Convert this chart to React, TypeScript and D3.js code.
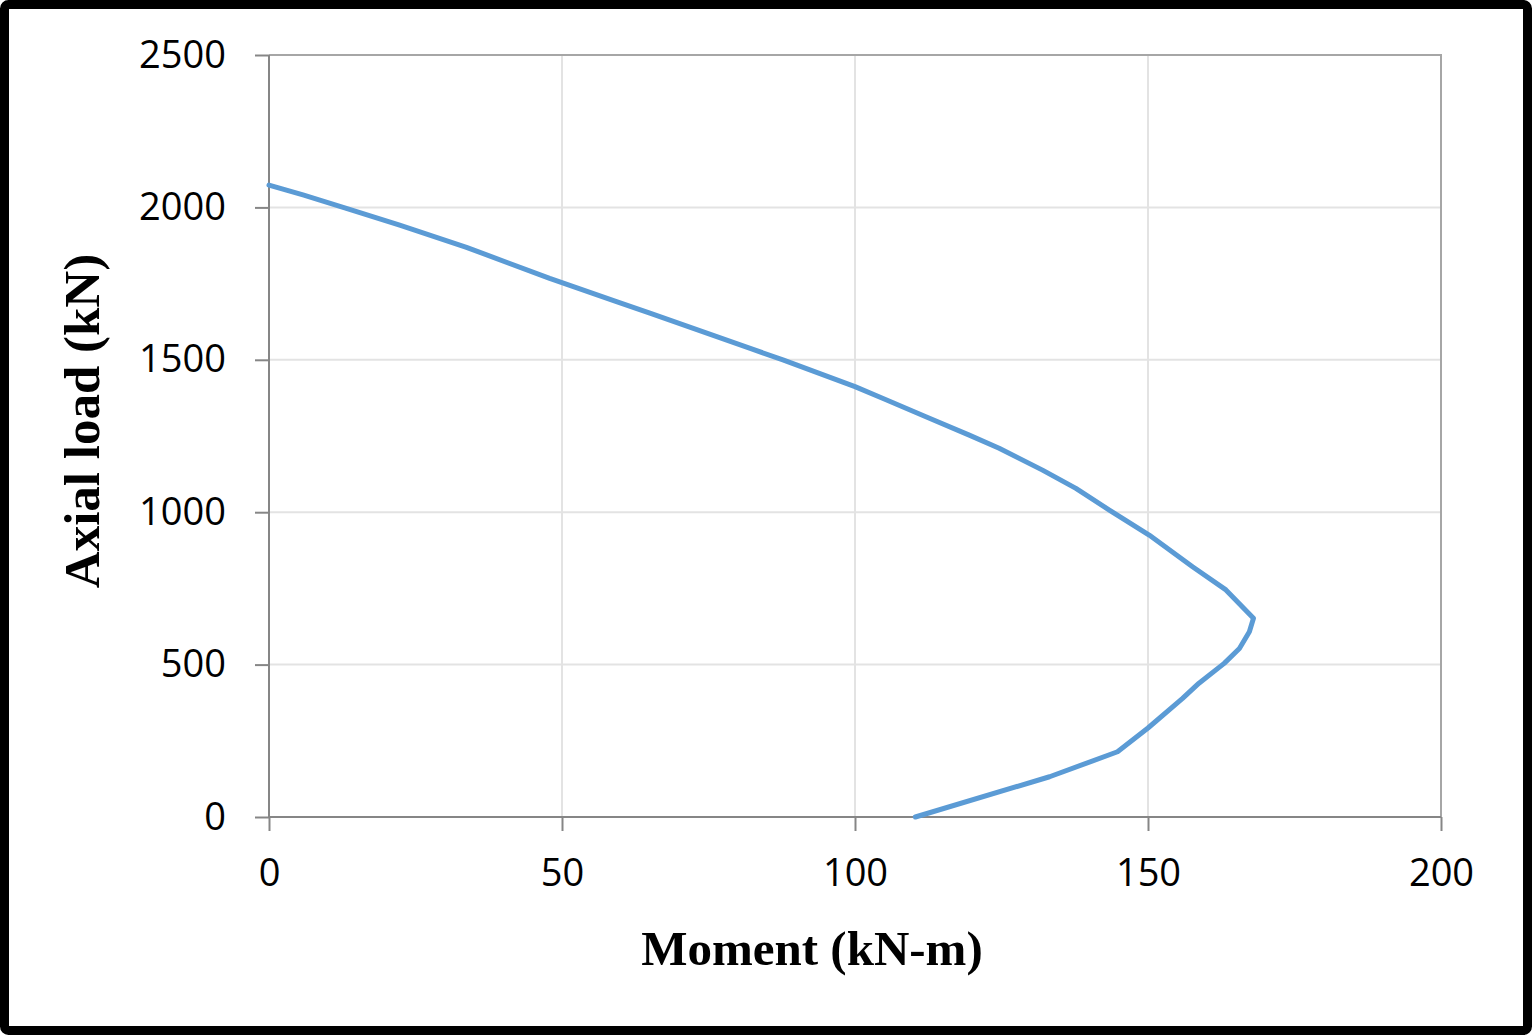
import React, { useEffect, useRef } from "react";
import * as d3 from "d3";

const WIDTH = 1532;
const HEIGHT = 1035;

// interaction diagram
const momentValues = [
  0, 5.8, 13.2, 22.3, 33.7, 47.9, 59.3, 65, 82, 87.7, 100, 104.7, 112.1, 119.5,
  124.6, 132, 137.7, 143.4, 150.2, 157.6, 163.3, 168, 167.3, 165.6, 163, 158.7,
  155.9, 150, 144.8, 133.2, 110.3,
];
const axialValues = [
  2073, 2041, 1997, 1942, 1869, 1767, 1691, 1653, 1538, 1500, 1412, 1374, 1313,
  1253, 1210, 1138, 1078, 1007, 925, 821, 745, 652, 608, 553, 504, 439, 389,
  292, 214, 132, 0,
];
const xTicks = [0, 50, 100, 150, 200];
const yTicks = [0, 500, 1000, 1500, 2000, 2500];

const margin = { left: 269, right: 90, top: 55, bottom: 218 };

export default function App() {
  const svgRef = useRef<SVGSVGElement>(null);

  useEffect(() => {
    const svg = d3.select(svgRef.current);
    svg.selectAll("*").remove();

    const X = d3
      .scaleLinear()
      .domain([0, 200])
      .range([margin.left, WIDTH - margin.right - 1]);
    const Y = d3
      .scaleLinear()
      .domain([0, 2500])
      .range([HEIGHT - margin.bottom, margin.top]);

    // outer frame
    svg
      .append("rect")
      .attr("x", 4.5)
      .attr("y", 4.5)
      .attr("width", WIDTH - 9)
      .attr("height", HEIGHT - 9)
      .attr("rx", 4)
      .attr("fill", "#fff")
      .attr("stroke", "#000")
      .attr("stroke-width", 9);

    // gridlines
    svg
      .append("g")
      .selectAll("line")
      .data(xTicks.slice(1, -1))
      .enter()
      .append("line")
      .attr("x1", (d) => X(d))
      .attr("x2", (d) => X(d))
      .attr("y1", Y(2500))
      .attr("y2", Y(0))
      .attr("stroke", "#e3e3e3")
      .attr("stroke-width", 2);
    svg
      .append("g")
      .selectAll("line")
      .data(yTicks.slice(1, -1))
      .enter()
      .append("line")
      .attr("x1", X(0))
      .attr("x2", X(200))
      .attr("y1", (d) => Y(d))
      .attr("y2", (d) => Y(d))
      .attr("stroke", "#e3e3e3")
      .attr("stroke-width", 2);

    // plot area border (top / right)
    svg
      .append("path")
      .attr("d", `M${X(0)},${Y(2500)}H${X(200)}V${Y(0)}`)
      .attr("fill", "none")
      .attr("stroke", "#a6a6a6")
      .attr("stroke-width", 2);

    // axes
    const xAxis = d3
      .axisBottom(X)
      .tickValues(xTicks)
      .tickSize(14)
      .tickPadding(28)
      .tickFormat(d3.format("d"));
    const gx = svg
      .append("g")
      .attr("transform", `translate(0,${Y(0)})`)
      .call(xAxis);
    const yAxis = d3
      .axisLeft(Y)
      .tickValues(yTicks)
      .tickSize(14)
      .tickPadding(29)
      .tickFormat(d3.format("d"));
    const gy = svg
      .append("g")
      .attr("transform", `translate(${X(0)},0)`)
      .call(yAxis);

    [gx, gy].forEach((g) => {
      g.select(".domain").attr("stroke", "#868686").attr("stroke-width", 2);
      g.selectAll(".tick line").attr("stroke", "#868686").attr("stroke-width", 2);
      g.selectAll(".tick text")
        .attr("fill", "#000")
        .style("font-family", "'Open Sans', sans-serif")
        .style("font-size", "38px");
    });
    gx.select(".domain").attr("d", `M${X(0)},0H${X(200)}`);
    gy.select(".domain").attr("d", `M0,${Y(0)}V${Y(2500)}`);

    // curve
    const pts: [number, number][] = momentValues.map((m, i) => [
      X(m),
      Y(axialValues[i]),
    ]);
    svg
      .append("path")
      .attr("d", d3.line()(pts))
      .attr("fill", "none")
      .attr("stroke", "#5b9bd5")
      .attr("stroke-width", 5)
      .attr("stroke-linejoin", "round")
      .attr("stroke-linecap", "round");

    // axis titles
    svg
      .append("text")
      .attr("x", 812)
      .attr("y", 965)
      .attr("text-anchor", "middle")
      .style("font-family", "'Liberation Serif', 'Times New Roman', serif")
      .style("font-weight", "bold")
      .style("font-size", "49px")
      .text("Moment (kN-m)");
    svg
      .append("text")
      .attr("transform", "translate(99,421) rotate(-90)")
      .attr("text-anchor", "middle")
      .style("font-family", "'Liberation Serif', 'Times New Roman', serif")
      .style("font-weight", "bold")
      .style("font-size", "51px")
      .text("Axial load (kN)");
  }, []);

  return (
    <svg
      ref={svgRef}
      width={WIDTH}
      height={HEIGHT}
      style={{ position: "absolute", left: 0, top: 0 }}
    />
  );
}
